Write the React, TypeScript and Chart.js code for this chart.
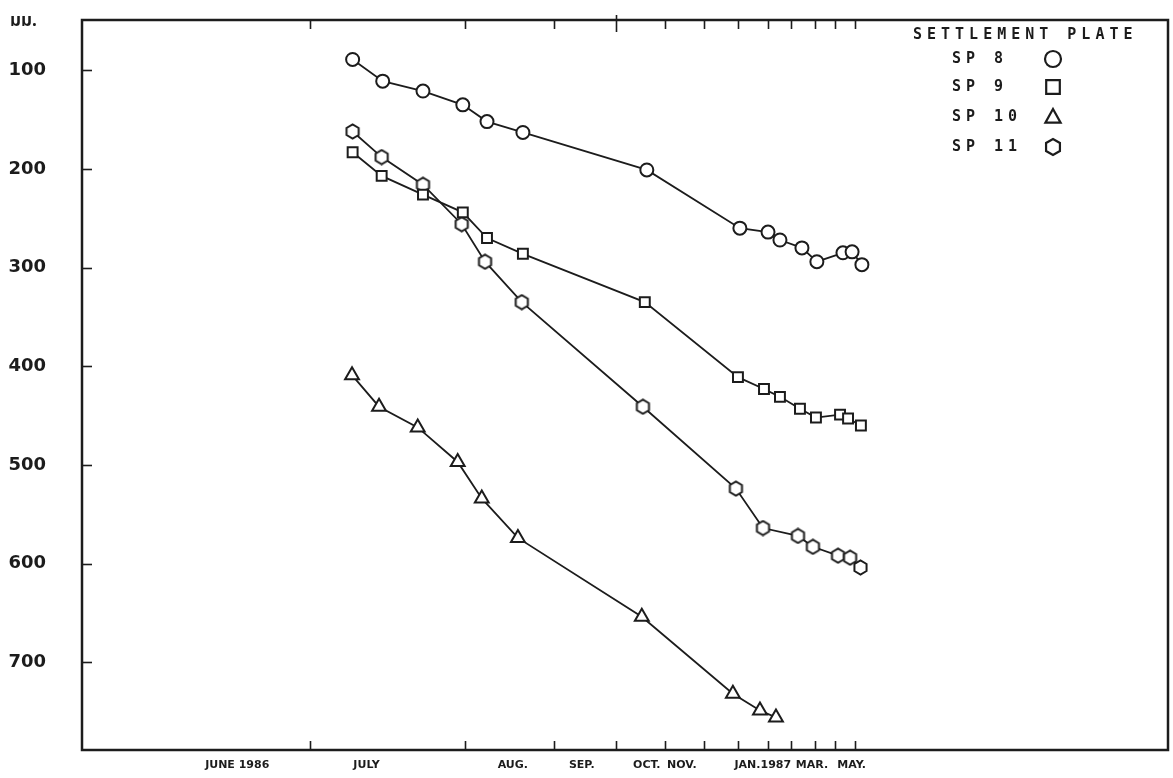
import React, { useEffect, useRef } from "react";
import { Chart, registerables } from "chart.js";

Chart.register(...registerables);

// ---- Data (x = days after 1 June 1986, logarithmic time axis; y = settlement, mm) ----
const sp8Days = [36.5, 41.9, 50.4, 60.5, 67.6, 79.7, 140.7, 215.6, 245.3, 259.1, 286.6, 306.9, 345.9, 360.7, 377.3];
const sp8Values = [89, 111, 121, 135, 152, 163, 201, 260, 264, 272, 280, 294, 285, 284, 297];

const sp9Days = [36.5, 41.7, 50.4, 60.5, 67.6, 79.7, 139.4, 213.7, 240.8, 259.1, 284, 305.6, 341.3, 354.1, 375.6];
const sp9Values = [183, 207, 226, 244, 270, 286, 335, 411, 423, 431, 443, 452, 449, 453, 460];

const sp10Days = [36.4, 41.2, 49.2, 59.1, 66.0, 77.9, 137.5, 208.8, 236.4, 254.4];
const sp10Values = [409, 441, 462, 497, 534, 574, 654, 732, 749, 756];

const sp11Days = [36.5, 41.7, 50.4, 60.2, 67.0, 79.3, 138.2, 211.7, 239.7, 281.4, 301.4, 338.2, 357.4, 374.8];
const sp11Values = [162, 188, 216, 256, 294, 335, 441, 524, 564, 572, 583, 592, 594, 604];

const seriesNames = ["SP 8", "SP 9", "SP 10", "SP 11"];
const legendTitle = "SETTLEMENT PLATE";
const yUnitLabel = "มม.";

// month boundaries (days after 1 June 1986): Jul 1 ... Jun 1 1987
const monthBoundaryDays = [30, 61, 92, 122, 153, 183, 214, 245, 273, 304, 334, 365];
// month label positions and texts
const monthLabelDays = [21.5, 38.9, 76.1, 104.4, 140.7, 165.2, 239.5, 300, 360];
const monthLabels = ["JUNE 1986", "JULY", "AUG.", "SEP.", "OCT.", "NOV.", "JAN.1987", "MAR.", "MAY."];

const yTickValues = [100, 200, 300, 400, 500, 600, 700];

const X_MIN = 10.55;
const X_MAX = 1536;
const Y_MIN = 49;
const Y_MAX = 789;

const INK = "#1c1c1c";

function makeHexagon(size: number, lw: number): HTMLCanvasElement {
  const c = document.createElement("canvas");
  c.width = size;
  c.height = size;
  const g = c.getContext("2d")!;
  const r = size / 2 - lw / 2 - 0.5;
  const cx = size / 2;
  const cy = size / 2;
  g.beginPath();
  for (let i = 0; i < 6; i++) {
    const a = (Math.PI / 3) * i + Math.PI / 6;
    const px = cx + r * Math.cos(a);
    const py = cy + r * Math.sin(a);
    if (i === 0) g.moveTo(px, py);
    else g.lineTo(px, py);
  }
  g.closePath();
  g.fillStyle = "#fff";
  g.fill();
  g.strokeStyle = INK;
  g.lineWidth = lw;
  g.stroke();
  return c;
}

function drawSymbol(ctx: CanvasRenderingContext2D, kind: string, x: number, y: number, r: number) {
  ctx.beginPath();
  if (kind === "circle") {
    ctx.arc(x, y, r, 0, Math.PI * 2);
  } else if (kind === "rect") {
    ctx.rect(x - r * 0.85, y - r * 0.85, r * 1.7, r * 1.7);
  } else if (kind === "triangle") {
    ctx.moveTo(x, y - r);
    ctx.lineTo(x + r * 0.95, y + r * 0.7);
    ctx.lineTo(x - r * 0.95, y + r * 0.7);
    ctx.closePath();
  } else {
    for (let i = 0; i < 6; i++) {
      const a = (Math.PI / 3) * i + Math.PI / 6;
      const px = x + r * Math.cos(a);
      const py = y + r * Math.sin(a);
      if (i === 0) ctx.moveTo(px, py);
      else ctx.lineTo(px, py);
    }
    ctx.closePath();
  }
  ctx.stroke();
}

const zeroPad = (scale: any) => {
  scale.paddingTop = 0;
  scale.paddingBottom = 0;
  scale.paddingLeft = 0;
  scale.paddingRight = 0;
};

const framePlugin = {
  id: "frame",
  beforeDatasetsDraw(chart: any) {
    const { ctx, chartArea: a, scales } = chart;
    const xs = scales.x;
    const ys = scales.y;
    ctx.save();
    ctx.strokeStyle = INK;
    ctx.lineWidth = 2.5;
    ctx.strokeRect(a.left, a.top, a.right - a.left, a.bottom - a.top);
    ctx.lineWidth = 1.6;
    const line = (x1: number, y1: number, x2: number, y2: number) => {
      ctx.beginPath();
      ctx.moveTo(x1, y1);
      ctx.lineTo(x2, y2);
      ctx.stroke();
    };
    monthBoundaryDays.forEach((d) => {
      const px = Math.round(xs.getPixelForValue(d)) + 0.5;
      line(px, a.bottom, px, a.bottom - 9);
      if (d === 122) line(px, a.top - 5, px, a.top + 12);
      else line(px, a.top, px, a.top + 9);
    });
    yTickValues.forEach((v) => {
      const py = Math.round(ys.getPixelForValue(v)) + 0.5;
      line(a.left, py, a.left + 10, py);
    });
    ctx.restore();
  },
  afterDraw(chart: any) {
    const { ctx, chartArea: a } = chart;
    ctx.save();
    // unit label at top left
    ctx.fillStyle = INK;
    ctx.font = "bold 17px 'Noto Sans Thai', 'Noto Sans', 'DejaVu Sans', sans-serif";
    ctx.textAlign = "left";
    ctx.textBaseline = "alphabetic";
    ctx.fillText(yUnitLabel, 10, 26);

    // legend
    const c: any = ctx;
    ctx.font = "bold 15px 'DejaVu Sans Mono', monospace";
    c.letterSpacing = "5px";
    ctx.textBaseline = "middle";
    ctx.fillText(legendTitle, a.right - 255, 35);
    const kinds = ["circle", "rect", "triangle", "hexagon"];
    const rows = [59, 87, 117, 147];
    seriesNames.forEach((name, i) => {
      ctx.fillStyle = INK;
      ctx.fillText(name, a.right - 216, rows[i]);
      ctx.strokeStyle = INK;
      ctx.lineWidth = 2.2;
      drawSymbol(ctx, kinds[i], a.right - 115, rows[i], 8);
    });
    c.letterSpacing = "0px";
    ctx.restore();
  },
};

export default function App() {
  const canvasRef = useRef<HTMLCanvasElement | null>(null);

  useEffect(() => {
    const canvas = canvasRef.current;
    if (!canvas) return;
    const hex = makeHexagon(17, 2);
    const mk = (days: number[], vals: number[]) => days.map((d, i) => ({ x: d, y: vals[i] }));
    const base = {
      borderColor: INK,
      borderWidth: 1.8,
      pointBackgroundColor: "#ffffff",
      pointBorderColor: INK,
      pointBorderWidth: 2,
      tension: 0,
      fill: false,
    };
    const chart = new Chart(canvas, {
      type: "line",
      data: {
        datasets: [
          { ...base, label: seriesNames[0], data: mk(sp8Days, sp8Values), pointStyle: "circle", pointRadius: 6.5 },
          { ...base, label: seriesNames[1], data: mk(sp9Days, sp9Values), pointStyle: "rect", pointRadius: 7 },
          { ...base, label: seriesNames[2], data: mk(sp10Days, sp10Values), pointStyle: "triangle", pointRadius: 8 },
          { ...base, label: seriesNames[3], data: mk(sp11Days, sp11Values), pointStyle: hex as any, pointRadius: 7 },
        ],
      },
      options: {
        animation: false,
        responsive: false,
        maintainAspectRatio: false,
        layout: { autoPadding: false, padding: { top: 20, right: 5, left: 0, bottom: 0 } },
        plugins: {
          legend: { display: false },
          tooltip: { enabled: false },
        },
        scales: {
          x: {
            type: "logarithmic",
            position: "bottom",
            min: X_MIN,
            max: X_MAX,
            bounds: "data",
            grid: { display: false, drawTicks: false },
            border: { display: false },
            afterBuildTicks: (scale: any) => {
              scale.ticks = monthLabelDays.map((v) => ({ value: v }));
            },
            afterFit: (scale: any) => {
              scale.height = 28;
              zeroPad(scale);
            },
            ticks: {
              autoSkip: false,
              maxRotation: 0,
              minRotation: 0,
              padding: 9,
              color: INK,
              font: { family: "'DejaVu Sans', sans-serif", size: 11, weight: "bold" },
              callback: (_v: any, i: number) => monthLabels[i],
            },
          },
          y: {
            type: "linear",
            reverse: true,
            min: Y_MIN,
            max: Y_MAX,
            grid: { display: false, drawTicks: false },
            border: { display: false },
            afterBuildTicks: (scale: any) => {
              scale.ticks = yTickValues.map((v) => ({ value: v }));
            },
            afterFit: (scale: any) => {
              scale.width = 82;
              zeroPad(scale);
            },
            ticks: {
              padding: 36,
              color: INK,
              font: { family: "'DejaVu Sans', sans-serif", size: 18, weight: "bold" },
              callback: (v: any) => String(v),
            },
          },
        },
      },
      plugins: [framePlugin],
    });
    return () => chart.destroy();
  }, []);

  return (
    <div style={{ position: "fixed", left: 0, top: 0, width: 1173, height: 778, background: "#ffffff" }}>
      <canvas ref={canvasRef} width={1173} height={778} style={{ display: "block" }} />
    </div>
  );
}
